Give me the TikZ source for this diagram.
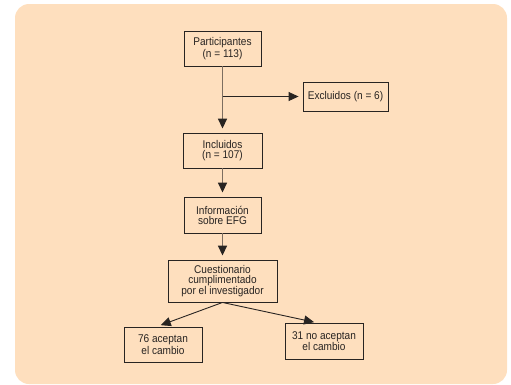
\documentclass[tikz,border=0pt]{standalone}
\usepackage{fontspec}
\setmainfont{Liberation Sans}[FakeStretch=0.9]
\usetikzlibrary{arrows.meta}
\definecolor{peach}{RGB}{254,223,190}
\definecolor{ink}{RGB}{40,36,34}
\definecolor{stem}{RGB}{125,110,96}
\begin{document}
\begin{tikzpicture}[x=1pt,y=-1pt,
  box/.style={draw=ink,line width=0.9pt,text=ink,align=center,inner sep=0pt,
    font=\fontsize{11.2}{10}\selectfont},
  tip/.style={-{Triangle[length=10pt,width=9pt,color=ink]}},
  vline/.style={draw=stem,line width=1.6pt,tip,shorten >=4pt},
  hline/.style={draw=ink,line width=0.9pt,tip,shorten >=4pt}]
\useasboundingbox (0,0) rectangle (511,384);
\fill[peach,rounded corners=14pt] (15,4) rectangle (507,384);
\node[box,minimum width=77pt,minimum height=35pt] (part) at (222.5,48.5) {Participantes\\(n = 113)};
\node[box,minimum width=85pt,minimum height=29pt] (ex) at (345.5,96.5) {Excluidos (n = 6)};
\node[box,minimum width=79pt,minimum height=35pt] (inc) at (222.5,150.5) {Incluidos\\(n = 107)};
\node[box,minimum width=77pt,minimum height=36pt] (info) at (222.5,215) {Información\\sobre EFG};
\node[box,minimum width=109pt,minimum height=42pt] (cq) at (222.5,281) {Cuestionario\\cumplimentado\\por el investigador};
\node[box,minimum width=78pt,minimum height=35pt] (a76) at (163,344.5) {76 aceptan\\el cambio};
\node[box,minimum width=78pt,minimum height=36pt] (a31) at (324,341) {31 no aceptan\\el cambio};
\draw[vline] (part) -- (inc);
\draw[vline] (inc) -- (info);
\draw[vline] (info) -- (cq);
\draw[hline] (part.south |- ex.west) -- (ex.west);
\draw[hline] (cq.south) -- ([xshift=-6pt]a76.north);
\draw[hline,shorten >=2pt] (cq.south) -- ([xshift=-8pt]a31.north);
\end{tikzpicture}
\end{document}
